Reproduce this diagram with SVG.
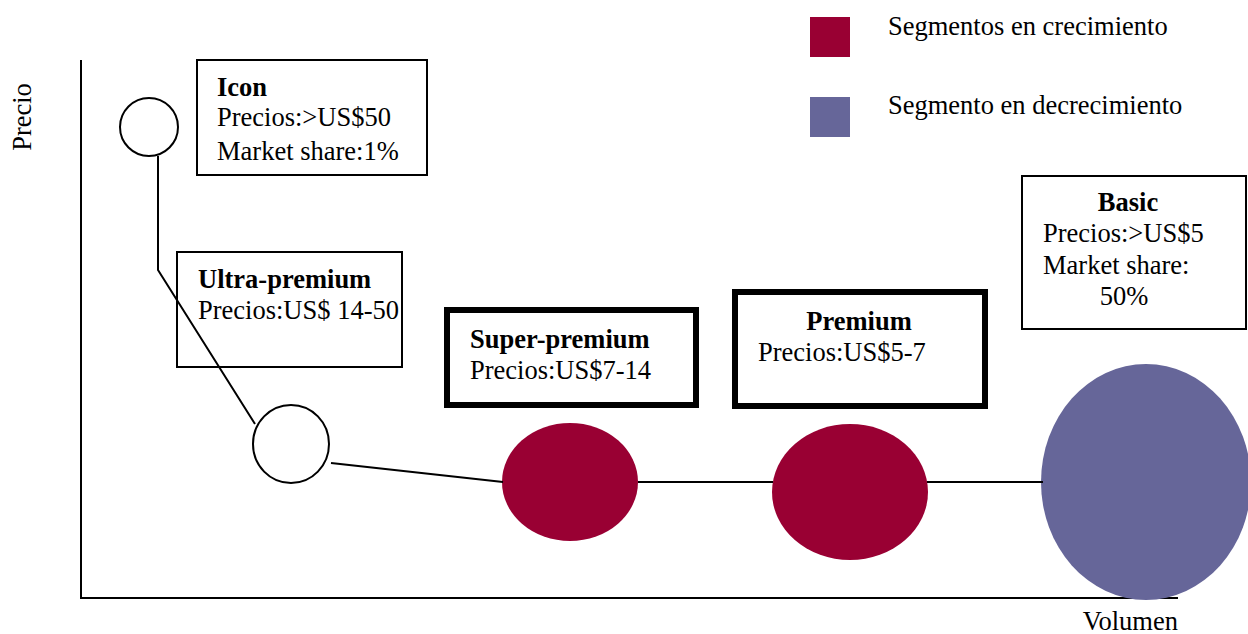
<svg xmlns="http://www.w3.org/2000/svg" width="1248" height="634" viewBox="0 0 1248 634">
<style>
text{font-family:"Liberation Serif","Times New Roman",serif;font-size:26.5px;fill:#000}
.b{font-weight:bold}
.box{fill:#fff;stroke:#000;stroke-width:2}
.tbox{fill:#fff;stroke:#000;stroke-width:6}
.ln{stroke:#000;stroke-width:2;fill:none}
.grow{fill:#990033}
.dec{fill:#666699}
.open{fill:#fff;stroke:#000;stroke-width:2}
</style>
<rect width="1248" height="634" fill="#fff"/>
<g id="axes">
<line class="ln" x1="81" y1="60" x2="81" y2="599"/>
<line class="ln" x1="80" y1="598" x2="1178" y2="598" stroke-width="3"/>
<text transform="translate(31,117) rotate(-90)" text-anchor="middle">Precio</text>
<text x="1178" y="630" text-anchor="end">Volumen</text>
</g>
<g id="legend">
<rect class="grow" x="810" y="17" width="40" height="40"/>
<text x="888" y="35">Segmentos en crecimiento</text>
<rect class="dec" x="810" y="97" width="40" height="40"/>
<text x="888" y="114">Segmento en decrecimiento</text>
</g>
<g id="icon">
<circle class="open" cx="149" cy="127" r="29"/>
<rect class="box" x="197" y="60" width="230" height="115"/>
<text x="217" y="96" class="b">Icon</text>
<text x="217" y="126">Precios:&gt;US$50</text>
<text x="217" y="160">Market share:1%</text>
</g>
<g id="ultra-premium">
<ellipse class="open" cx="291" cy="444" rx="38" ry="39"/>
<rect class="box" x="177" y="252" width="225" height="115" fill="none" style="fill:none"/>
<text x="198" y="288" class="b">Ultra-premium</text>
<text x="198" y="319">Precios:US$ 14-50</text>
</g>
<g id="super-premium">
<ellipse class="grow" cx="570" cy="482" rx="68" ry="59"/>
<rect class="tbox" x="447" y="310" width="249" height="95"/>
<text x="470" y="348" class="b">Super-premium</text>
<text x="470" y="379">Precios:US$7-14</text>
</g>
<g id="premium">
<ellipse class="grow" cx="850" cy="492" rx="78" ry="68"/>
<rect class="tbox" x="735" y="292" width="250" height="114"/>
<text x="859" y="330" class="b" text-anchor="middle">Premium</text>
<text x="758" y="361">Precios:US$5-7</text>
</g>
<g id="basic">
<ellipse class="dec" cx="1146" cy="482" rx="105" ry="118"/>
<rect class="box" x="1022" y="176" width="224" height="153"/>
<text x="1128" y="211" class="b" text-anchor="middle">Basic</text>
<text x="1043" y="242">Precios:&gt;US$5</text>
<text x="1043" y="274">Market share:</text>
<text x="1124" y="305" text-anchor="middle">50%</text>
</g>
<g id="connectors">
<polyline class="ln" points="158,156 158,270 255,424"/>
<line class="ln" x1="331" y1="463" x2="503" y2="482"/>
<line class="ln" x1="638" y1="482" x2="773" y2="482"/>
<line class="ln" x1="927" y1="482" x2="1043" y2="482"/>
</g>
</svg>
